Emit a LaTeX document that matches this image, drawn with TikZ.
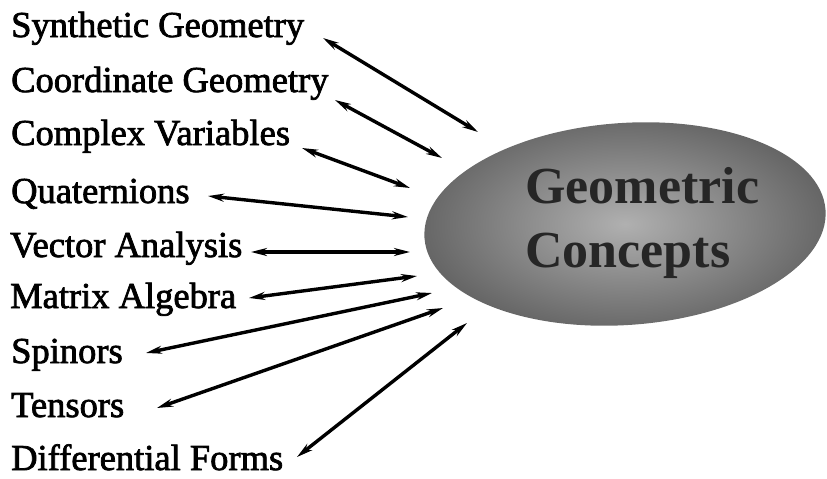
\documentclass[tikz,border=0pt]{standalone}
\usepackage{fontspec}
\setmainfont{Liberation Serif}
\font\lblfnt="Liberation Serif:embolden=2" at 36.5pt
\usetikzlibrary{arrows.meta,shadings,shapes.geometric}
\definecolor{ovalout}{HTML}{666666}
\definecolor{ovalin}{HTML}{B0B0B0}
\definecolor{titletext}{HTML}{262626}
\tikzset{
  lbl/.style={anchor=base west,inner sep=0pt,font=\lblfnt},
  link/.style={line width=3.4pt,{Stealth[length=16pt,width=8pt]}-{Stealth[length=16pt,width=8pt]}},
  oval/.style={ellipse,minimum width=402pt,minimum height=202pt,inner sep=0pt},
  title/.style={anchor=base west,inner sep=0pt,text=titletext,font=\bfseries\fontsize{52}{56}\selectfont}
}
\begin{document}
\begin{tikzpicture}[x=1pt,y=-1pt]
\useasboundingbox (0,0) rectangle (827,479);
% oval
\node[oval,rotate=4,inner color=ovalin,outer color=ovalout] (gc) at (625,224) {};
\node[title] (t1) at (525,203) {Geometric};
\node[title] (t2) at (525,267) {Concepts};
% labels
\node[lbl] (l1) at (11,37) {Synthetic Geometry};
\node[lbl] (l2) at (11,92) {Coordinate Geometry};
\node[lbl] (l3) at (11,145) {Complex Variables};
\node[lbl] (l4) at (11,203) {Quaternions};
\node[lbl] (l5) at (10,257) {Vector Analysis};
\node[lbl] (l6) at (10,308) {Matrix Algebra};
\node[lbl] (l7) at (11,363) {Spinors};
\node[lbl] (l8) at (11,417) {Tensors};
\node[lbl] (l9) at (11,470) {Differential Forms};
% arrow ends
\coordinate (a1) at (323,38);  \coordinate (b1) at (478,132);
\coordinate (a2) at (335,100); \coordinate (b2) at (442,158);
\coordinate (a3) at (302,148); \coordinate (b3) at (410,188);
\coordinate (a4) at (208,196); \coordinate (b4) at (408,217);
\coordinate (a5) at (251,252); \coordinate (b5) at (410,252);
\coordinate (a6) at (249,298); \coordinate (b6) at (417,276);
\coordinate (a7) at (146,353); \coordinate (b7) at (432,293);
\coordinate (a8) at (157,408); \coordinate (b8) at (443,308);
\coordinate (a9) at (297,457); \coordinate (b9) at (467,323);
\foreach \i in {1,...,9}{\draw[link] (a\i) -- (b\i);}
\end{tikzpicture}
\end{document}
